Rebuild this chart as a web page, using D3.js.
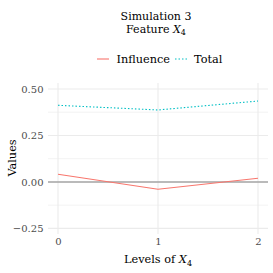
<!DOCTYPE html>
<html><head><meta charset="utf-8">
<script src="https://cdn.jsdelivr.net/npm/d3@7"></script>
<style>body{margin:0;background:#fff}svg{display:block}text{font-family:"DejaVu Serif",serif}</style>
</head><body>
<script>
const levels = [0, 1, 2];
const influence = [0.041, -0.039, 0.020];
const total = [0.412, 0.387, 0.435];
const yTicks = [-0.25, 0, 0.25, 0.5];
const yMinor = [-0.125, 0.125, 0.375];
const seriesNames = ["Influence", "Total"];
const colors = ["#F8766D", "#00BFC4"];

const W = 273, H = 273;
const svg = d3.select("body").append("svg").attr("width", W).attr("height", H);
const x = d3.scaleLinear().domain([-0.1, 2.1]).range([48, 268]);
const y = d3.scaleLinear().domain([-0.28, 0.532]).range([234, 83]);

// grid
svg.append("g").selectAll("line").data(yMinor).join("line")
  .attr("x1", 48).attr("x2", 268).attr("y1", d => y(d)).attr("y2", d => y(d))
  .attr("stroke", "#ebebeb").attr("stroke-width", 0.6);
svg.append("g").selectAll("line").data(yTicks).join("line")
  .attr("x1", 48).attr("x2", 268).attr("y1", d => y(d)).attr("y2", d => y(d))
  .attr("stroke", "#ebebeb").attr("stroke-width", 1.1);
svg.append("g").selectAll("line").data(levels).join("line")
  .attr("y1", 83).attr("y2", 234).attr("x1", d => x(d)).attr("x2", d => x(d))
  .attr("stroke", "#ebebeb").attr("stroke-width", 1.1);

// axes
const yAxis = svg.append("g").attr("transform", "translate(48,0)")
  .call(d3.axisLeft(y).tickValues(yTicks).tickFormat(d3.format(".2f")).tickSize(0).tickPadding(4.5));
yAxis.select(".domain").remove();
yAxis.selectAll("text").attr("fill", "#4d4d4d").style("font-size", "10px").style("font-family", "DejaVu Serif");
const xAxis = svg.append("g").attr("transform", "translate(0,234)")
  .call(d3.axisBottom(x).tickValues(levels).tickFormat(d3.format("d")).tickSize(0).tickPadding(4));
xAxis.select(".domain").remove();
xAxis.selectAll("text").attr("fill", "#4d4d4d").style("font-size", "10px").style("font-family", "DejaVu Serif");

// zero line
svg.append("line").attr("x1", 48).attr("x2", 268).attr("y1", y(0)).attr("y2", y(0))
  .attr("stroke", "#a6a6a6").attr("stroke-width", 1.4);

const line = d3.line().x((d, i) => x(levels[i])).y(d => y(d));
svg.append("path").datum(influence).attr("d", line).attr("fill", "none")
  .attr("stroke", colors[0]).attr("stroke-width", 1.1);
svg.append("path").datum(total).attr("d", line).attr("fill", "none")
  .attr("stroke", colors[1]).attr("stroke-width", 1.1).attr("stroke-dasharray", "1.5,2");

// titles
svg.append("text").attr("text-anchor", "middle").attr("x", 156).attr("y", 19.5)
  .style("font-size", "11px").text("Simulation 3");
const t2 = svg.append("text").attr("text-anchor", "middle").attr("x", 156).attr("y", 32.5).style("font-size", "11px");
t2.append("tspan").text("Feature ");
t2.append("tspan").style("font-style", "italic").text("X");
t2.append("tspan").attr("dy", 2.5).style("font-size", "8px").text("4");

// legend
svg.append("line").attr("x1", 97).attr("x2", 109).attr("y1", 59).attr("y2", 59).attr("stroke", colors[0]).attr("stroke-width", 1.1);
svg.append("text").attr("x", 116.5).attr("y", 63).style("font-size", "11.3px").text(seriesNames[0]);
svg.append("line").attr("x1", 175).attr("x2", 189).attr("y1", 59).attr("y2", 59).attr("stroke", colors[1]).attr("stroke-width", 1.1).attr("stroke-dasharray", "1.5,2");
svg.append("text").attr("x", 194).attr("y", 63).style("font-size", "11.3px").text(seriesNames[1]);

// axis titles
const xt = svg.append("text").attr("text-anchor", "middle").attr("x", 158).attr("y", 263).style("font-size", "11.3px");
xt.append("tspan").text("Levels of ");
xt.append("tspan").style("font-style", "italic").text("X");
xt.append("tspan").attr("dy", 2.5).style("font-size", "8px").text("4");
svg.append("text").attr("text-anchor", "middle").attr("transform", "translate(16,158) rotate(-90)")
  .style("font-size", "11.3px").text("Values");
</script>
</body></html>
